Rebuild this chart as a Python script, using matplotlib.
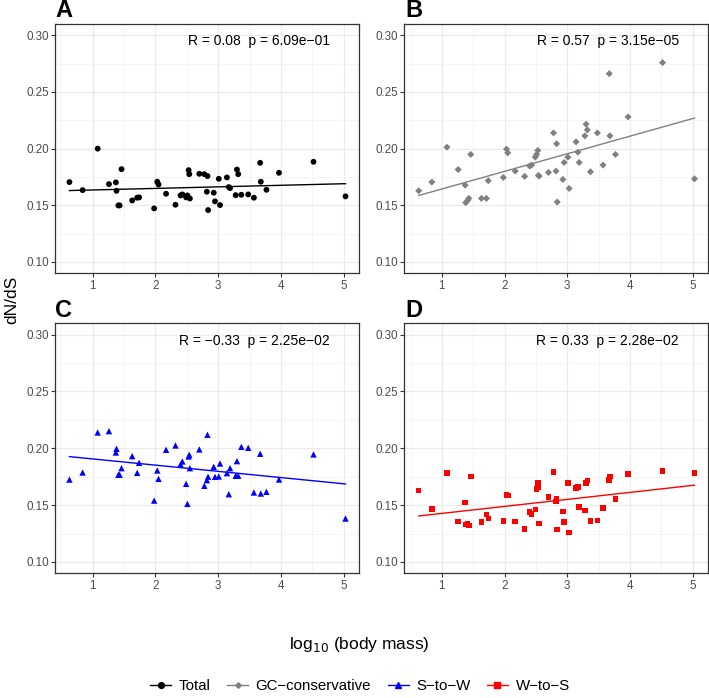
import numpy as np
import matplotlib
matplotlib.use("Agg")
import matplotlib.pyplot as plt
from matplotlib.lines import Line2D
from matplotlib.ticker import FixedLocator

plt.rcParams['font.family'] = ['Liberation Sans', 'DejaVu Sans']

# log10(body mass) per species (shared by all panels)
body_mass = [0.63, 0.84, 1.08, 1.26, 1.37, 1.38, 1.41, 1.43, 1.46, 1.63,
             1.71, 1.74, 1.98, 2.03, 2.05, 2.17, 2.32, 2.40, 2.43, 2.49,
             2.51, 2.53, 2.54, 2.55, 2.70, 2.78, 2.83, 2.82, 2.84, 2.93,
             2.95, 3.01, 3.03, 3.14, 3.17, 3.19, 3.28, 3.30, 3.32, 3.37,
             3.48, 3.57, 3.67, 3.68, 3.77, 3.97, 4.52, 5.03]

dnds_total = [0.1705, 0.1634, 0.2000, 0.1687, 0.1702, 0.1628, 0.1499, 0.1499, 0.1819, 0.1543,
              0.1567, 0.1570, 0.1473, 0.1708, 0.1684, 0.1602, 0.1505, 0.1587, 0.1596, 0.1570,
              0.1587, 0.1810, 0.1775, 0.1560, 0.1778, 0.1775, 0.1758, 0.1620, 0.1458, 0.1611,
              0.1535, 0.1734, 0.1502, 0.1746, 0.1661, 0.1652, 0.1590, 0.1816, 0.1775, 0.1593,
              0.1596, 0.1567, 0.1875, 0.1708, 0.1637, 0.1787, 0.1884, 0.1579]

dnds_gc_conservative = [0.1628, 0.1705, 0.2013, 0.1816, 0.1678, 0.1523, 0.1543, 0.1561, 0.1949, 0.1561,
                        0.1561, 0.1717, 0.1746, 0.1996, 0.1963, 0.1802, 0.1755, 0.1846, 0.1855, 0.1925,
                        0.1949, 0.1984, 0.1764, 0.1758, 0.1790, 0.2139, 0.2043, 0.1802, 0.1529, 0.1728,
                        0.1878, 0.1925, 0.1649, 0.2060, 0.1969, 0.1878, 0.2113, 0.2216, 0.2166, 0.1796,
                        0.2139, 0.1855, 0.2662, 0.2113, 0.1949, 0.2280, 0.2759, 0.1734]

dnds_s_to_w = [0.1725, 0.1787, 0.2139, 0.2151, 0.1963, 0.1996, 0.1767, 0.1767, 0.1825, 0.1931,
               0.1784, 0.1872, 0.1540, 0.1805, 0.1731, 0.1987, 0.2025, 0.1858, 0.1884, 0.1687,
               0.1511, 0.1928, 0.1943, 0.1825, 0.1990, 0.1670, 0.2119, 0.1720, 0.1750, 0.1837,
               0.1749, 0.1752, 0.1866, 0.1781, 0.1596, 0.1825, 0.1758, 0.1887, 0.1758, 0.2013,
               0.2004, 0.1611, 0.1952, 0.1602, 0.1617, 0.1725, 0.1946, 0.1382]

dnds_w_to_s = [0.1628, 0.1467, 0.1781, 0.1355, 0.1523, 0.1329, 0.1335, 0.1320, 0.1752, 0.1350,
               0.1417, 0.1382, 0.1361, 0.1587, 0.1584, 0.1355, 0.1288, 0.1441, 0.1423, 0.1461,
               0.1643, 0.1696, 0.1660, 0.1338, 0.1573, 0.1793, 0.1555, 0.1532, 0.1285, 0.1444,
               0.1350, 0.1696, 0.1258, 0.1652, 0.1661, 0.1482, 0.1452, 0.1696, 0.1717, 0.1358,
               0.1364, 0.1473, 0.1722, 0.1752, 0.1555, 0.1775, 0.1799, 0.1781]

panel_letters = ['A', 'B', 'C', 'D']
series_names = ['Total', 'GC\u2212conservative', 'S\u2212to\u2212W', 'W\u2212to\u2212S']
r_labels = ['0.08', '0.57', '\u22120.33', '0.33']
p_labels = ['6.09e\u221201', '3.15e\u221205', '2.25e\u221202', '2.28e\u221202']
x_ticks = [1, 2, 3, 4, 5]
y_ticks = [0.10, 0.15, 0.20, 0.25, 0.30]

series = [dnds_total, dnds_gc_conservative, dnds_s_to_w, dnds_w_to_s]
colors = ['black', '#808080', '#0000FF', '#FF0000']
markers = ['o', 'D', '^', 's']
msizes = [4.2, 3.6, 4.6, 4.0]

W, H = 709, 698
fig = plt.figure(figsize=(W / 100, H / 100), dpi=100)

positions = [
    [55 / W, 1 - 273.3 / H, 304.3 / W, 249.3 / H],
    [404.3 / W, 1 - 273.3 / H, 304 / W, 249.3 / H],
    [55 / W, 1 - 573.3 / H, 304.3 / W, 250 / H],
    [404.3 / W, 1 - 573.3 / H, 304 / W, 250 / H],
]
letter_pos = [(55, 17), (405, 17), (55, 317), (405, 317)]

x = np.array(body_mass)
for i in range(4):
    ax = fig.add_axes(positions[i])
    y = np.array(series[i])
    ax.set_xlim(0.40, 5.25)
    ax.set_ylim(0.09, 0.31)
    ax.xaxis.set_major_locator(FixedLocator(x_ticks))
    ax.yaxis.set_major_locator(FixedLocator(y_ticks))
    ax.xaxis.set_minor_locator(FixedLocator([0.5, 1.5, 2.5, 3.5, 4.5]))
    ax.yaxis.set_minor_locator(FixedLocator([0.125, 0.175, 0.225, 0.275]))
    ax.set_xticklabels([str(t) for t in x_ticks])
    ax.set_yticklabels(['%.2f' % t for t in y_ticks])
    ax.grid(which='major', color='#EBEBEB', linewidth=0.9, zorder=0)
    ax.grid(which='minor', color='#F2F2F2', linewidth=0.5, zorder=0)
    ax.set_axisbelow(True)
    for s in ax.spines.values():
        s.set_color('#333333')
        s.set_linewidth(0.9)
    ax.tick_params(which='major', direction='out', length=3, width=0.8,
                   color='#333333', labelcolor='#4D4D4D', labelsize=8.4, pad=1.5)
    ax.tick_params(which='minor', length=0)
    ax.scatter(x, y, marker=markers[i], s=msizes[i] ** 2, color=colors[i],
               edgecolors='none', zorder=3)
    k, b = np.polyfit(x, y, 1)
    xs = np.array([x.min(), x.max()])
    ax.plot(xs, k * xs + b, color=colors[i], linewidth=1.0, zorder=4)
    ax.text(4.78, 0.2948, 'R = %s  p = %s' % (r_labels[i], p_labels[i]),
            ha='right', va='center', fontsize=10, color='black')
    lx, ly = letter_pos[i]
    fig.text(lx / W, 1 - ly / H, panel_letters[i], fontsize=17,
             fontweight='bold', ha='left', va='baseline')

fig.text(12 / W, 1 - 300 / H, 'dN/dS', rotation=90, ha='center', va='center',
         fontsize=12.5)
fig.text(359 / W, 1 - 649 / H, r'log$_{10}$ (body mass)', ha='center',
         va='baseline', fontsize=12.5)

handles = [Line2D([0], [0], color=colors[i], marker=markers[i],
                  markersize=msizes[i] * (0.8 if i == 1 else 1.0), linewidth=1.0)
           for i in range(4)]
fig.legend(handles, series_names, loc='center', bbox_to_anchor=(360 / W, 1 - 686 / H),
           ncol=4, frameon=False, fontsize=10.8, handlelength=1.4, handletextpad=0.5,
           columnspacing=1.1, borderaxespad=0, borderpad=0)

fig.savefig('out.png', dpi=100)
